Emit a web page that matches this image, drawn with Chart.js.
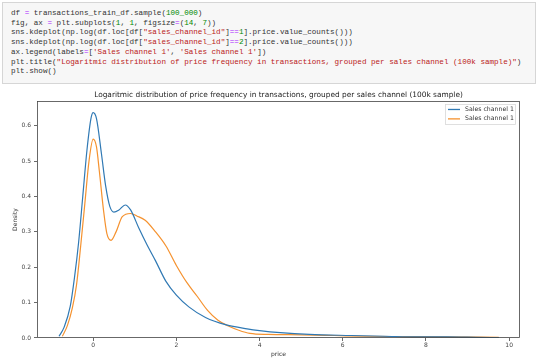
<!DOCTYPE html>
<html>
<head>
<meta charset="utf-8">
<script src="https://cdn.jsdelivr.net/npm/chart.js@4"></script>
<style>
  html, body { margin:0; padding:0; background:#ffffff; width:540px; height:358px; overflow:hidden; }
  #code {
    position:absolute; left:2px; top:2px; width:534px; height:82px;
    background:#f7f7f7; border:1px solid #d6d6d6; box-sizing:border-box;
    font-family:"Liberation Mono","DejaVu Sans Mono",monospace; font-size:7.6px; line-height:9.7px;
    color:#333; padding:6px 0 0 8px; white-space:pre;
  }
  .o { color:#aa22ff; }
  .n { color:#008800; }
  .s { color:#ba2121; }
  #wrap { position:absolute; left:0; top:88px; width:540px; height:270px; }
</style>
</head>
<body>
<div id="code">df <span class="o">=</span> transactions_train_df.sample(<span class="n">100_000</span>)
fig, ax <span class="o">=</span> plt.subplots(<span class="n">1</span>, <span class="n">1</span>, figsize<span class="o">=</span>(<span class="n">14</span>, <span class="n">7</span>))
sns.kdeplot(np.log(df.loc[df[<span class="s">"sales_channel_id"</span>]<span class="o">==</span><span class="n">1</span>].price.value_counts()))
sns.kdeplot(np.log(df.loc[df[<span class="s">"sales_channel_id"</span>]<span class="o">==</span><span class="n">2</span>].price.value_counts()))
ax.legend(labels<span class="o">=</span>[<span class="s">'Sales channel 1'</span>, <span class="s">'Sales channel 1'</span>])
plt.title(<span class="s">"Logaritmic distribution of price frequency in transactions, grouped per sales channel (100k sample)"</span>)
plt.show()</div>
<div id="wrap"><canvas id="c" width="540" height="270"></canvas></div>
<script>
// ---- data ----
const chartTitle = "Logaritmic distribution of price frequency in transactions, grouped per sales channel (100k sample)";
const seriesLabels = ["Sales channel 1", "Sales channel 1"];
const xTicks = [0, 2, 4, 6, 8, 10];
const yTicks = [0.0, 0.1, 0.2, 0.3, 0.4, 0.5, 0.6];

const ch1Price   = [-0.82, -0.7, -0.55, -0.45, -0.35, -0.25, -0.15, -0.05, 0.0, 0.08, 0.2, 0.3, 0.4, 0.5, 0.62, 0.77, 0.9, 1.1, 1.3, 1.5, 1.75, 2.0, 2.3, 2.7, 3.2, 3.7, 4.0, 4.5, 5.2, 6.2, 7.0, 7.8, 8.5, 9.2, 9.75];
const ch1Density = [0.005, 0.03, 0.09, 0.17, 0.27, 0.40, 0.53, 0.622, 0.637, 0.62, 0.52, 0.43, 0.372, 0.356, 0.362, 0.376, 0.362, 0.31, 0.262, 0.218, 0.16, 0.121, 0.088, 0.058, 0.037, 0.026, 0.021, 0.015, 0.01, 0.007, 0.005, 0.003, 0.003, 0.002, 0.001];

const ch2Price   = [-0.74, -0.62, -0.5, -0.4, -0.3, -0.2, -0.1, 0.0, 0.08, 0.15, 0.25, 0.33, 0.43, 0.55, 0.7, 0.9, 1.05, 1.25, 1.5, 1.75, 2.0, 2.25, 2.5, 2.75, 3.0, 3.25, 3.5, 3.77, 4.2, 5.0, 5.8, 6.5, 7.5, 8.5, 9.75];
const ch2Density = [0.005, 0.035, 0.085, 0.15, 0.26, 0.38, 0.50, 0.562, 0.54, 0.47, 0.36, 0.295, 0.276, 0.30, 0.343, 0.352, 0.345, 0.333, 0.30, 0.26, 0.205, 0.157, 0.118, 0.078, 0.05, 0.034, 0.022, 0.013, 0.01, 0.009, 0.007, 0.005, 0.004, 0.003, 0.002];

const toPts = (xs, ys) => xs.map((x, i) => ({ x: x, y: ys[i] }));

const FONT = '"DejaVu Sans", sans-serif';
const COLORS = ['#3079b4', '#f5922f'];

// centre the title over the axes (as matplotlib does) instead of the whole canvas
const centerTitle = {
  id: 'centerTitle',
  afterLayout(chart) {
    const t = chart.titleBlock, a = chart.chartArea;
    if (t) { t.left = a.left; t.right = a.right; t.width = a.right - a.left; }
  }
};

const frame = {
  id: 'frame',
  afterDatasetsDraw(chart) {
    const a = chart.chartArea, ctx = chart.ctx;
    ctx.save();
    ctx.strokeStyle = '#444';
    ctx.lineWidth = 0.8;
    ctx.strokeRect(a.left + 0.5, a.top + 0.5, a.right - a.left - 1, a.bottom - a.top - 1);
    // legend inside the axes, upper right
    const ds = chart.data.datasets;
    const bx = a.right - 75, by = a.top + 3, bw = 71, bh = 21;
    ctx.fillStyle = 'rgba(255,255,255,0.85)';
    ctx.strokeStyle = '#d8d8d8';
    ctx.lineWidth = 0.8;
    ctx.fillRect(bx, by, bw, bh);
    ctx.strokeRect(bx + 0.5, by + 0.5, bw - 1, bh - 1);
    ctx.font = '6.2px ' + FONT;
    ctx.textBaseline = 'middle';
    ds.forEach((d, i) => {
      const yy = by + 5.5 + i * 9.4;
      ctx.strokeStyle = d.borderColor;
      ctx.lineWidth = 1.3;
      ctx.beginPath(); ctx.moveTo(bx + 3, yy); ctx.lineTo(bx + 15, yy); ctx.stroke();
      ctx.fillStyle = '#333';
      ctx.fillText(d.label, bx + 20, yy);
    });
    ctx.restore();
  }
};

new Chart(document.getElementById('c'), {
  type: 'line',
  data: {
    datasets: [
      { label: seriesLabels[0], data: toPts(ch1Price, ch1Density), borderColor: COLORS[0], borderWidth: 1.2, pointRadius: 0, tension: 0.4, cubicInterpolationMode: 'monotone', fill: false },
      { label: seriesLabels[1], data: toPts(ch2Price, ch2Density), borderColor: COLORS[1], borderWidth: 1.2, pointRadius: 0, tension: 0.4, cubicInterpolationMode: 'monotone', fill: false }
    ]
  },
  options: {
    responsive: false,
    animation: false,
    layout: { padding: { left: 0, right: 20, top: 0, bottom: 0 } },
    plugins: {
      legend: { display: false },
      tooltip: { enabled: false },
      title: { display: true, text: chartTitle, color: '#222', font: { family: FONT, size: 7.4, weight: 'normal' }, padding: { top: 2.5, bottom: 1.6 } }
    },
    scales: {
      x: {
        type: 'linear', min: -1.35, max: 10.26,
        afterBuildTicks: s => { s.ticks = xTicks.map(v => ({ value: v })); },
        afterFit: s => { s.height = 20; },
        grid: { display: true, drawOnChartArea: false, drawTicks: true, tickLength: 3, color: '#444', lineWidth: 0.8 },
        border: { display: false },
        ticks: { color: '#444', font: { family: FONT, size: 6 }, padding: 1, maxRotation: 0, callback: v => String(v) },
        title: { display: true, text: 'price', color: '#333', font: { family: FONT, size: 6 }, padding: { top: 0, bottom: 0 } }
      },
      y: {
        type: 'linear', min: 0, max: 0.67,
        afterBuildTicks: s => { s.ticks = yTicks.map(v => ({ value: v })); },
        afterFit: s => { s.width = 37; },
        grid: { display: true, drawOnChartArea: false, drawTicks: true, tickLength: 3, color: '#444', lineWidth: 0.8 },
        border: { display: false },
        ticks: { color: '#444', font: { family: FONT, size: 6 }, padding: 3, callback: v => v.toFixed(1) },
        title: { display: true, text: 'Density', color: '#333', font: { family: FONT, size: 6 }, padding: { top: 12, bottom: 0 } }
      }
    }
  },
  plugins: [centerTitle, frame]
});
</script>
</body>
</html>
